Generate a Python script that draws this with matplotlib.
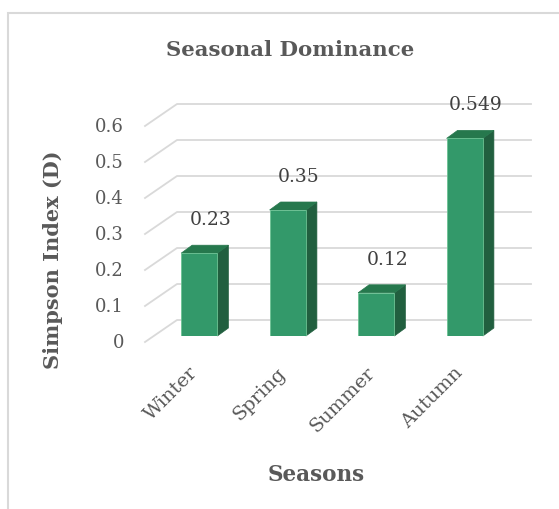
import matplotlib
matplotlib.use("Agg")
import matplotlib.pyplot as plt
from matplotlib.patches import Polygon, Rectangle
from matplotlib.transforms import IdentityTransform

# ---------------------------------------------------------------------------
# data
# ---------------------------------------------------------------------------
seasons = ["Winter", "Spring", "Summer", "Autumn"]
simpson_d = [0.23, 0.35, 0.12, 0.549]
value_labels = ["0.23", "0.35", "0.12", "0.549"]
y_ticks = [0, 0.1, 0.2, 0.3, 0.4, 0.5, 0.6]
y_tick_labels = ["0", "0.1", "0.2", "0.3", "0.4", "0.5", "0.6"]

# colours
FRONT = "#33996a"
SIDE = "#215f3f"
TOP = "#26784d"
EDGE = "#6cc293"
GRID = "#d9d9d9"
TEXT = "#595959"

plt.rcParams["font.family"] = ["DejaVu Serif"]

W, H, DPI = 559, 510, 100
fig = plt.figure(figsize=(W / DPI, H / DPI), dpi=DPI)

# axes = the plane of the bar front faces (pixels from the top-left)
left_px, right_px = 155, 509
base_px, top_px = 337, 121
ax = fig.add_axes([left_px / W, 1 - base_px / H,
                   (right_px - left_px) / W, (base_px - top_px) / H])
ax.set_xlim(-0.5, 3.5)
ax.set_ylim(0, 0.6)
ax.axis("off")

# depth offsets in pixels (x right, y up) relative to the bar plane
BACK = (22, 16)
FRONT_EDGE = (-10, -6)
BAR_DEPTH = (11, 8)
PIX = IdentityTransform()


def disp(x, y, off=(0, 0)):
    px, py = ax.transData.transform((x, y))
    return (px + off[0], py + off[1])


# chart border
fig.patches.append(Rectangle((8, -20), W + 20, H - 14 + 20, transform=PIX,
                             fill=False, edgecolor="#d9d9d9", linewidth=1.5))

# gridlines: back wall + left side wall
for v in y_ticks:
    a = disp(-0.5, v, BACK)
    b = disp(3.5, v, BACK)
    c = disp(-0.5, v, FRONT_EDGE)
    ax.add_line(plt.Line2D([c[0], a[0], b[0]], [c[1], a[1], b[1]],
                           transform=PIX, color=GRID, linewidth=1.3,
                           clip_on=False, zorder=1))

# bars
bar_w = 0.41
xs = list(range(len(seasons)))
ax.bar(xs, simpson_d, width=bar_w, color=FRONT, edgecolor=EDGE,
       linewidth=0.6, zorder=3)
for x, v in zip(xs, simpson_d):
    x0, x1 = x - bar_w / 2, x + bar_w / 2
    side = [disp(x1, 0), disp(x1, v), disp(x1, v, BAR_DEPTH), disp(x1, 0, BAR_DEPTH)]
    top = [disp(x0, v), disp(x1, v), disp(x1, v, BAR_DEPTH), disp(x0, v, BAR_DEPTH)]
    ax.add_patch(Polygon(side, closed=True, transform=PIX, clip_on=False,
                         facecolor=SIDE, edgecolor=SIDE, linewidth=0.5, zorder=2))
    ax.add_patch(Polygon(top, closed=True, transform=PIX, clip_on=False,
                         facecolor=TOP, edgecolor=TOP, linewidth=0.5, zorder=2))

# value labels
for x, v, lab in zip(xs, simpson_d, value_labels):
    px, py = disp(x, v, (11, 34))
    fig.text(px / W, py / H, lab, ha="center", va="center",
             fontsize=13.5, color="#404040")

# y tick labels (aligned with the front floor edge)
for v, lab in zip(y_ticks, y_tick_labels):
    px, py = disp(-0.5, v, FRONT_EDGE)
    fig.text((px - 21) / W, py / H, lab, ha="right", va="center",
             fontsize=13, color=TEXT)

# category labels
for x, lab in zip(xs, seasons):
    px, py = disp(x, 0)
    fig.text((px - 11) / W, (py - 27) / H, lab, ha="right", va="top",
             rotation=45, rotation_mode="anchor", fontsize=14, color=TEXT)

fig.text(290 / W, 1 - 50 / H, "Seasonal Dominance", ha="center", va="center",
         fontsize=15.3, fontweight="bold", color=TEXT)
fig.text(316 / W, 1 - 475 / H, "Seasons", ha="center", va="center",
         fontsize=15.5, fontweight="bold", color=TEXT)
fig.text(53 / W, 1 - 260 / H, "Simpson Index (D)", ha="center", va="center",
         rotation=90, fontsize=15, fontweight="bold", color=TEXT)

fig.savefig("out.png", dpi=DPI)
